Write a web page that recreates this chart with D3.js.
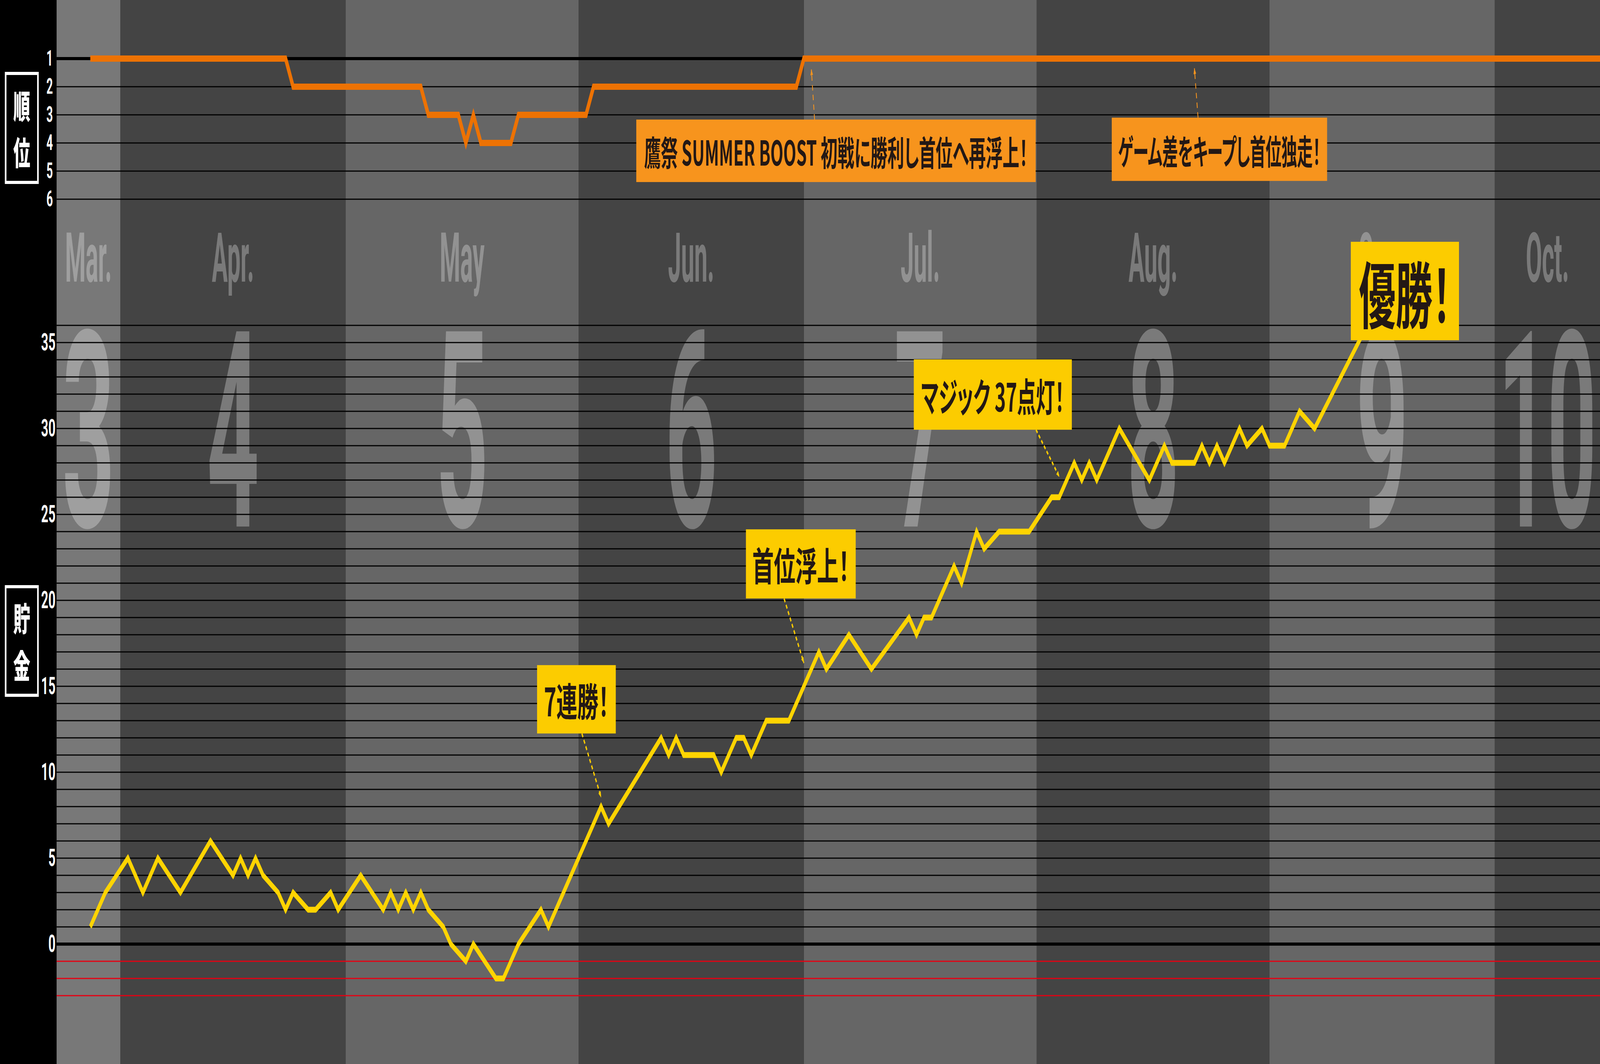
<!DOCTYPE html>
<html>
<head>
<meta charset="utf-8">
<script src="https://cdn.jsdelivr.net/npm/d3@7"></script>
<style>
  html, body { margin: 0; padding: 0; background: #000; overflow: hidden; }
  svg { display: block; width: 100vw; height: 100vh; }
</style>
</head>
<body>
<div id="chart"></div>
<script>
// ---- data ----
const monthNames = ["Mar.", "Apr.", "May", "Jun.", "Jul.", "Aug.", "Sep.", "Oct."];
const monthNumbers = ["3", "4", "5", "6", "7", "8", "9", "10"];

// 貯金 (wins minus losses) at each turning point of the line
const savingDates = [
  "03-28", "03-30", "04-02", "04-04", "04-06", "04-09", "04-13", "04-16", "04-17", "04-18",
  "04-19", "04-20", "04-22", "04-23", "04-24", "04-26", "04-27", "04-29", "04-30", "05-03",
  "05-06", "05-07", "05-08", "05-09", "05-10", "05-11", "05-12", "05-14", "05-15", "05-17",
  "05-18", "05-21", "05-22", "05-24", "05-27", "05-28", "06-04", "06-05", "06-12", "06-13",
  "06-14", "06-15", "06-19", "06-20", "06-22", "06-23", "06-24", "06-26", "06-29", "07-03",
  "07-04", "07-07", "07-10", "07-15", "07-16", "07-17", "07-18", "07-21", "07-22", "07-24",
  "07-25", "07-27", "07-31", "08-03", "08-04", "08-06", "08-07", "08-08", "08-09", "08-12",
  "08-16", "08-18", "08-19", "08-22", "08-23", "08-24", "08-25", "08-26", "08-28", "08-29",
  "08-31", "09-01", "09-03", "09-05", "09-07", "09-14"
];
const savingValues = [
  1, 3, 5, 3, 5, 3, 6, 4, 5, 4,
  5, 4, 3, 2, 3, 2, 2, 3, 2, 4,
  2, 3, 2, 3, 2, 3, 2, 1, 0, -1,
  0, -2, -2, 0, 2, 1, 8, 7, 12, 11,
  12, 11, 11, 10, 12, 12, 11, 13, 13, 17,
  16, 18, 16, 19, 18, 19, 19, 22, 21, 24,
  23, 24, 24, 26, 26, 28, 27, 28, 27, 30,
  27, 29, 28, 28, 29, 28, 29, 28, 30, 29,
  30, 29, 29, 31, 30, 36
];

// 順位 (league position) at each change
const rankDates = [
  "03-28", "04-23", "04-24", "05-11", "05-12", "05-16", "05-17", "05-18", "05-19", "05-23",
  "05-24", "06-02", "06-03", "06-30", "07-01", "10-15"
];
const rankValues = [1, 1, 2, 2, 3, 3, 4, 3, 4, 4, 3, 3, 2, 2, 1, 1];

const savingTicks = [0, 5, 10, 15, 20, 25, 30, 35];
const rankTicks = [1, 2, 3, 4, 5, 6];

// ---- layout ----
const width = 7928;
const height = 2724;
const plotLeft = 280;
const bandColors = ["#787878", "#444444", "#666666", "#444444", "#666666", "#444444", "#666666", "#444444"];
const numFont = "Roboto, 'Liberation Sans', sans-serif";
const jpFont = "'Noto Sans CJK JP', 'Noto Sans CJK SC', sans-serif";

const parseDay = (md) => d3.utcParse("%Y-%m-%d")("2024-" + md);

const savings = savingDates.map((d, i) => ({ date: parseDay(d), v: savingValues[i] }));
const ranks = rankDates.map((d, i) => ({ date: parseDay(d), r: rankValues[i] }));

const xScale = d3
  .scaleUtc()
  .domain([new Date(Date.UTC(2024, 2, 23, 12)), new Date(Date.UTC(2024, 9, 15))])
  .range([plotLeft, width]);

const yScale = d3.scaleLinear().domain([0, 36]).range([2417, 833]);
const rankScale = d3.scaleLinear().domain([1, 6]).range([150, 510]);

// the drawing is laid out in a 7928 x 2724 box and stretched to the window
const svg = d3
  .select("#chart")
  .append("svg")
  .attr("viewBox", `0 0 ${width} ${height}`)
  .attr("preserveAspectRatio", "none");

// markers for the annotation arrows
const defs = svg.append("defs");
[["arrowY", "#fccc00"], ["arrowO", "#f7941d"]].forEach(([id, c]) => {
  defs
    .append("marker")
    .attr("id", id)
    .attr("viewBox", "0 0 10 10")
    .attr("refX", 9)
    .attr("refY", 5)
    .attr("markerWidth", 24)
    .attr("markerHeight", 16)
    .attr("markerUnits", "userSpaceOnUse")
    .attr("orient", "auto")
    .append("path")
    .attr("d", "M0,1 L10,5 L0,9 Z")
    .attr("fill", c);
});

svg.append("rect").attr("width", width).attr("height", height).attr("fill", "#000");

// month bands
const monthStarts = d3.utcMonth.range(d3.utcMonth.floor(xScale.domain()[0]), xScale.domain()[1]);
const bands = monthStarts.map((m, i) => {
  const x0 = Math.max(xScale(m), plotLeft);
  const x1 = Math.min(xScale(d3.utcMonth.offset(m, 1)), width);
  return { x0, x1, i };
});

svg
  .append("g")
  .selectAll("rect")
  .data(bands)
  .enter()
  .append("rect")
  .attr("x", (d) => d.x0)
  .attr("y", 0)
  .attr("width", (d) => d.x1 - d.x0)
  .attr("height", height)
  .attr("fill", (d) => bandColors[d.i]);

// month names and big month numbers
const monthText = svg.append("g").attr("fill", "#fff").attr("fill-opacity", 0.29);
bands.forEach((b) => {
  const cx = (b.x0 + b.x1) / 2;
  monthText
    .append("text")
    .attr("transform", `translate(${cx},721) scale(0.66,1)`)
    .attr("text-anchor", "middle")
    .style("font-family", numFont)
    .style("font-weight", 700)
    .style("font-size", "176px")
    .text(monthNames[b.i]);
  monthText
    .append("text")
    .attr("transform", `translate(${cx},1348) scale(${monthNumbers[b.i].length > 1 ? 0.6 : 0.64},1)`)
    .attr("text-anchor", "middle")
    .style("font-family", numFont)
    .style("font-weight", 700)
    .style("font-size", "703px")
    .text(monthNumbers[b.i]);
});

// gridlines
const grid = svg.append("g");
grid
  .selectAll("line.rank")
  .data(rankTicks)
  .enter()
  .append("line")
  .attr("x1", plotLeft)
  .attr("x2", width)
  .attr("y1", (d) => rankScale(d))
  .attr("y2", (d) => rankScale(d))
  .attr("stroke", "#000")
  .attr("stroke-width", (d) => (d === 1 ? 8 : 3));

grid
  .selectAll("line.sav")
  .data(d3.range(-3, 37))
  .enter()
  .append("line")
  .attr("x1", plotLeft)
  .attr("x2", width)
  .attr("y1", (d) => yScale(d))
  .attr("y2", (d) => yScale(d))
  .attr("stroke", (d) => (d < 0 ? "#e60012" : "#000"))
  .attr("stroke-width", (d) => (d === 0 ? 8 : 3));

// rank line
svg
  .append("path")
  .datum(ranks)
  .attr("fill", "none")
  .attr("stroke", "#ed7203")
  .attr("stroke-width", 16)
  .attr("d", d3.line().x((d) => xScale(d.date)).y((d) => rankScale(d.r)));

// savings line
svg
  .append("path")
  .datum(savings)
  .attr("fill", "none")
  .attr("stroke", "#ffd400")
  .attr("stroke-width", 15)
  .attr("d", d3.line().x((d) => xScale(d.date)).y((d) => yScale(d.v)));

// annotations: arrow tip at (date, value), box placed relative to the tip
const notes = [
  { text: "7連勝！", date: "06-04", v: 8.55, dx: -122, gap: 163, w: 390, tl: 322, h: 175, sx: -95, size: 100 },
  { text: "首位浮上！", date: "07-01", v: 16.36, dx: -15, gap: 165, w: 544, tl: 481, h: 177, sx: -98, size: 100 },
  { text: "マジック 37点灯！", date: "08-04", v: 27.2, dx: -329, gap: 120, w: 783, tl: 710, h: 180, sx: -115, size: 100 },
  { text: "優勝！", date: "09-14", v: 36, dx: 187, gap: -38, w: 536, tl: 456, h: 252, sx: null, size: 185 }
];
const rankNotes = [
  { text: "鷹祭 SUMMER BOOST 初戦に勝利し首位へ再浮上！", date: "07-02", r: 1.39, dx: 122, gap: 128, w: 1979, tl: 1901, h: 160, sx: 16 },
  { text: "ゲーム差をキープし首位独走！", date: "08-22", r: 1.35, dx: 124, gap: 126, w: 1067, tl: 1003, h: 162, sx: 18 }
];

const noteLayer = svg.append("g");

function drawBox(cx, cy, w, h, tl, txt, size, fill) {
  const g = noteLayer.append("g");
  g.append("rect")
    .attr("x", cx - w / 2)
    .attr("y", cy - h / 2)
    .attr("width", w)
    .attr("height", h)
    .attr("fill", fill);
  g.append("text")
    .attr("x", cx)
    .attr("y", cy)
    .attr("text-anchor", "middle")
    .attr("dominant-baseline", "central")
    .attr("textLength", tl)
    .attr("lengthAdjust", "spacingAndGlyphs")
    .attr("fill", "#231815")
    .style("font-family", jpFont)
    .style("font-weight", 700)
    .style("font-size", size + "px")
    .style("font-feature-settings", '"palt"')
    .text(txt);
}

notes.forEach((n) => {
  const tx = xScale(parseDay(n.date));
  const ty = yScale(n.v);
  const boxBottom = ty - n.gap;
  if (n.sx !== null) {
    noteLayer
      .append("line")
      .attr("x1", tx + n.sx)
      .attr("y1", boxBottom)
      .attr("x2", tx)
      .attr("y2", ty)
      .attr("stroke", "#fccc00")
      .attr("stroke-width", 6)
      .attr("stroke-dasharray", "11 8")
      .attr("marker-end", "url(#arrowY)");
  }
  drawBox(tx + n.dx, boxBottom - n.h / 2, n.w, n.h, n.tl, n.text, n.size, "#fccc00");
});

rankNotes.forEach((n) => {
  const tx = xScale(parseDay(n.date));
  const ty = rankScale(n.r);
  const boxTop = ty + n.gap;
  noteLayer
    .append("line")
    .attr("x1", tx + n.sx)
    .attr("y1", boxTop)
    .attr("x2", tx)
    .attr("y2", ty)
    .attr("stroke", "#f7941d")
    .attr("stroke-width", 4)
    .attr("stroke-dasharray", "14 11")
    .attr("marker-end", "url(#arrowO)");
  drawBox(tx + n.dx, boxTop + n.h / 2, n.w, n.h, n.tl, n.text, 88, "#f7941d");
});

// left panel
svg.append("rect").attr("x", 0).attr("y", 0).attr("width", plotLeft).attr("height", height).attr("fill", "#000");

const rankAxis = d3
  .axisLeft(rankScale)
  .tickValues(rankTicks)
  .tickFormat(d3.format("d"))
  .tickSize(0)
  .tickPadding(18);
svg
  .append("g")
  .attr("transform", `translate(${plotLeft},0)`)
  .call(rankAxis)
  .call((g) => g.select(".domain").remove())
  .selectAll("text")
  .attr("fill", "#fff")
  .style("font-family", numFont)
  .style("font-weight", 700)
  .style("font-size", "56px");

const savingAxis = d3
  .axisLeft(yScale)
  .tickValues(savingTicks)
  .tickFormat(d3.format("d"))
  .tickSize(0)
  .tickPadding(5);
svg
  .append("g")
  .attr("transform", `translate(${plotLeft},0)`)
  .call(savingAxis)
  .call((g) => g.select(".domain").remove())
  .selectAll("text")
  .attr("fill", "#fff")
  .style("font-family", numFont)
  .style("font-weight", 700)
  .style("font-size", "62px");

// panel titles
function sideTitle(y0, h, chars) {
  svg
    .append("rect")
    .attr("x", 28)
    .attr("y", y0 + 4)
    .attr("width", 160)
    .attr("height", h - 8)
    .attr("fill", "none")
    .attr("stroke", "#fff")
    .attr("stroke-width", 8);
  chars.forEach(([c, cy]) => {
    svg
      .append("text")
      .attr("x", 108)
      .attr("y", cy)
      .attr("text-anchor", "middle")
      .attr("dominant-baseline", "central")
      .attr("fill", "#fff")
      .style("font-family", jpFont)
      .style("font-weight", 900)
      .style("font-size", "84px")
      .text(c);
  });
}
sideTitle(184, 287, [["順", 267], ["位", 386]]);
sideTitle(1498, 286, [["貯", 1579], ["金", 1700]]);
</script>
</body>
</html>
